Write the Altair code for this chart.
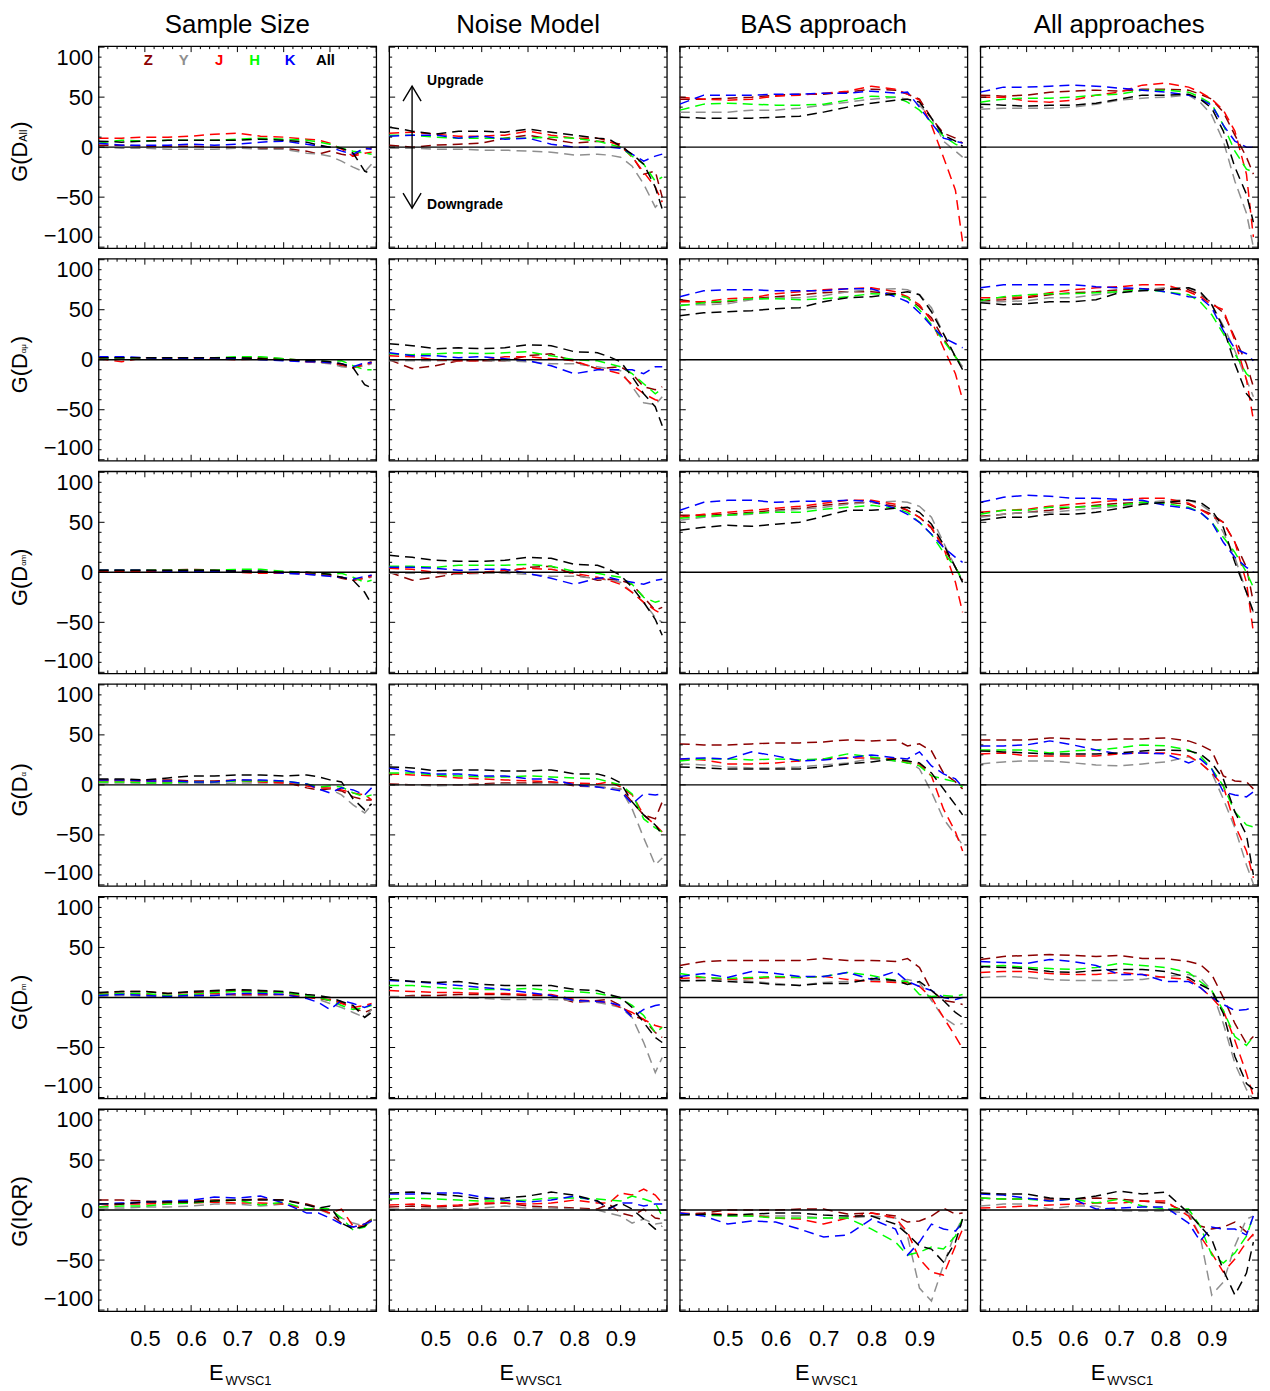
import altair as alt
import pandas as pd

FONT = "Liberation Sans"

# ---------------- data ----------------
X = [0.40, 0.45, 0.50, 0.55, 0.60, 0.65, 0.70, 0.75, 0.80, 0.85, 0.875, 0.90, 0.925, 0.95, 0.975, 0.99]
SERIES = ["Z", "Y", "J", "H", "K", "All"]
COLORS = ["#8b0000", "#8f8f8f", "#ff0000", "#00ff00", "#0000ff", "#000000"]
COLUMN_TITLES = ["Sample Size", "Noise Model", "BAS approach", "All approaches"]
X_LABELS = [0.5, 0.6, 0.7, 0.8, 0.9]
Y_LABELS = [-100, -50, 0, 50, 100]
X_MAJOR = [0.4, 0.5, 0.6, 0.7, 0.8, 0.9, 1.0]
X_MINOR = [0.42, 0.44, 0.46, 0.48, 0.52, 0.54, 0.56, 0.58, 0.62, 0.64, 0.66, 0.68,
           0.72, 0.74, 0.76, 0.78, 0.82, 0.84, 0.86, 0.88, 0.92, 0.94, 0.96, 0.98]
Y_MAJOR = [-100, -50, 0, 50, 100]
Y_MINOR = [-90, -80, -70, -60, -40, -30, -20, -10, 10, 20, 30, 40, 60, 70, 80, 90]

# row 1: G(D_All)
DALL_SAMPLE = {
    "Z":   [2, 2, 1, 1, 1, 0, 0, -1, -1, -4, -7, -4, -7, -9, -2, -1],
    "Y":   [0, -1, -1, -2, -2, -2, -1, -2, -2, -6, -7, -9, -14, -20, -25, -17],
    "J":   [9, 9, 10, 10, 11, 13, 14, 11, 10, 8, 7, 4, -2, -9, -6, -5],
    "H":   [4, 7, 6, 7, 7, 7, 8, 9, 8, 7, 5, 3, -1, -4, -6, -7],
    "K":   [4, 2, 2, 2, 3, 2, 3, 5, 6, 3, 1, 0, -4, -7, -1, -2],
    "All": [6, 5, 6, 7, 7, 7, 7, 8, 7, 5, 2, 0, -1, -6, -24, -27],
}
DALL_NOISE = {
    "Z":   [2, 0, 2, 3, 4, 9, 12, 8, 4, 6, 5, 3, -9, -27, -24, -50],
    "Y":   [-1, -1, -2, -2, -3, -3, -4, -5, -8, -7, -8, -10, -19, -37, -60, -53],
    "J":   [14, 15, 13, 11, 11, 12, 16, 12, 9, 9, 6, 1, -10, -25, -40, -55],
    "H":   [12, 12, 10, 9, 9, 9, 9, 10, 9, 6, 3, 0, -9, -17, -34, -30],
    "K":   [11, 12, 12, 9, 11, 8, 9, 3, 0, 0, 0, -1, -7, -14, -9, -7],
    "All": [20, 16, 13, 16, 16, 15, 18, 15, 12, 9, 8, 1, -7, -17, -40, -62],
}
DALL_BAS = {
    "Z":   [48, 48, 49, 50, 52, 53, 53, 55, 58, 57, 53, 48, 29, 14, 9, 4],
    "Y":   [35, 35, 35, 37, 37, 39, 42, 45, 48, 50, 48, 42, 29, 6, -4, -10],
    "J":   [50, 48, 47, 48, 51, 52, 54, 56, 61, 58, 53, 47, 22, -10, -43, -95],
    "H":   [37, 43, 44, 43, 42, 42, 43, 47, 51, 50, 45, 37, 25, 11, 3, 0],
    "K":   [43, 52, 52, 52, 53, 53, 54, 54, 56, 54, 55, 40, 24, 9, 6, 4],
    "All": [30, 29, 29, 29, 30, 31, 35, 40, 44, 47, 48, 45, 29, 12, 6, 1],
}
DALL_ALLAPP = {
    "Z":   [52, 51, 52, 55, 56, 57, 56, 58, 58, 57, 53, 48, 35, 12, -10, -27],
    "Y":   [38, 39, 39, 39, 40, 43, 47, 49, 50, 52, 45, 32, 6, -34, -66, -100],
    "J":   [50, 50, 46, 45, 47, 52, 55, 62, 64, 60, 55, 48, 37, 16, -27, -90],
    "H":   [45, 48, 49, 49, 50, 52, 53, 57, 57, 55, 50, 43, 22, -4, -22, -25],
    "K":   [55, 60, 60, 61, 62, 61, 59, 57, 55, 52, 48, 42, 22, 6, 0, 0],
    "All": [43, 42, 41, 42, 42, 44, 48, 52, 52, 53, 48, 39, 16, -20, -47, -75],
}
# row 2
DAMU_SAMPLE = {
    "Z":   [2, 2, 2, 2, 2, 2, 2, 2, 1, -1, -2, -3, -6, -8, -4, -2],
    "Y":   [1, 1, 1, 1, 1, 1, 1, 1, 0, -2, -3, -4, -7, -8, -6, -4],
    "J":   [1, -2, 2, 2, 2, 1, 0, 1, 0, -2, -2, -3, -5, -8, -5, -3],
    "H":   [2, 2, 2, 2, 2, 2, 3, 3, 1, -1, -1, -2, -1, -6, -10, -10],
    "K":   [3, 3, 2, 1, 1, 2, 1, 0, -1, -2, -2, -3, -4, -7, -3, -3],
    "All": [2, 2, 2, 2, 2, 2, 2, 1, 0, -1, -1, -2, -4, -8, -25, -28],
}
DAMU_NOISE = {
    "Z":   [0, -9, -6, -1, -1, -1, 4, 6, -2, -9, -8, -7, -14, -27, -30, -27],
    "Y":   [-1, -1, -1, -1, -1, -1, -2, -4, -4, -7, -9, -11, -27, -43, -45, -37],
    "J":   [4, 3, 0, -1, -1, 3, 3, 1, -1, -9, -11, -14, -25, -34, -40, -42],
    "H":   [6, 5, 6, 7, 6, 7, 8, 4, 0, -1, -4, -7, -14, -24, -34, -29],
    "K":   [7, 4, 4, 2, 3, 1, -1, -6, -14, -10, -10, -10, -10, -14, -7, -7],
    "All": [16, 14, 11, 12, 11, 12, 15, 14, 8, 7, 3, -2, -17, -34, -47, -66],
}
DAMU_BAS = {
    "Z":   [60, 57, 58, 61, 63, 65, 67, 68, 68, 66, 62, 53, 42, 21, 3, -7],
    "Y":   [55, 55, 56, 60, 62, 62, 64, 68, 70, 71, 70, 65, 52, 26, 3, -7],
    "J":   [58, 58, 61, 62, 66, 68, 70, 71, 72, 68, 63, 55, 39, 12, -14, -40],
    "H":   [54, 57, 59, 61, 61, 60, 61, 63, 66, 65, 62, 50, 35, 19, 3, -7],
    "K":   [63, 69, 70, 70, 69, 69, 69, 71, 71, 63, 58, 47, 34, 22, 16, 12],
    "All": [44, 47, 48, 49, 51, 52, 58, 62, 63, 66, 68, 65, 48, 26, 3, -10],
}
DAMU_ALLAPP = {
    "Z":   [59, 60, 62, 65, 67, 68, 70, 71, 71, 70, 65, 57, 47, 22, -4, -27],
    "Y":   [58, 58, 59, 62, 62, 65, 68, 70, 72, 72, 67, 55, 34, 9, -20, -37],
    "J":   [62, 62, 63, 67, 70, 72, 73, 75, 75, 68, 63, 55, 50, 19, -20, -60],
    "H":   [59, 63, 65, 66, 66, 67, 68, 70, 68, 65, 58, 45, 26, 6, -14, -20],
    "K":   [72, 75, 75, 75, 75, 73, 72, 71, 68, 63, 62, 52, 29, 11, 6, -1],
    "All": [57, 55, 56, 58, 58, 60, 67, 69, 70, 72, 68, 55, 32, -4, -34, -42],
}
# row 3
DAM_SAMPLE = {
    "Z":   [2, 2, 2, 2, 3, 2, 2, 1, 0, -1, -2, -3, -6, -8, -5, -3],
    "Y":   [1, 1, 1, 1, 1, 1, 0, 0, -1, -2, -3, -4, -5, -7, -6, -5],
    "J":   [1, 1, 1, 1, 1, 0, 0, -1, -1, -1, -2, -3, -5, -8, -6, -4],
    "H":   [2, 2, 2, 2, 2, 2, 3, 3, 1, 0, -1, -2, -1, -5, -10, -8],
    "K":   [2, 2, 2, 1, 1, 1, 1, 1, -1, -2, -3, -4, -5, -7, -4, -3],
    "All": [2, 2, 2, 2, 2, 2, 1, 1, 0, 0, -1, -2, -5, -8, -20, -32],
}
DAM_NOISE = {
    "Z":   [0, -8, -5, -1, -1, 0, 5, 6, -2, -8, -7, -8, -12, -25, -38, -35],
    "Y":   [-1, -1, -1, -2, -1, -1, -2, -4, -4, -6, -8, -10, -20, -30, -45, -50],
    "J":   [4, 3, 0, -1, 0, 2, 4, 3, -1, -5, -8, -12, -20, -30, -38, -42],
    "H":   [6, 6, 5, 7, 7, 7, 8, 6, 1, -1, -3, -5, -12, -25, -30, -28],
    "K":   [5, 5, 4, 2, 3, 3, -1, -6, -12, -6, -5, -8, -10, -12, -8, -7],
    "All": [17, 15, 12, 11, 11, 12, 15, 14, 8, 7, 3, -3, -15, -30, -47, -63],
}
DAM_BAS = {
    "Z":   [57, 57, 58, 60, 62, 64, 67, 69, 70, 66, 62, 55, 44, 25, 5, -8],
    "Y":   [52, 55, 57, 58, 61, 63, 65, 68, 70, 71, 70, 66, 55, 30, 5, -10],
    "J":   [55, 58, 60, 62, 64, 66, 69, 72, 72, 68, 62, 55, 45, 25, -10, -40],
    "H":   [54, 56, 57, 59, 60, 60, 63, 65, 67, 64, 60, 50, 38, 20, 5, -8],
    "K":   [62, 70, 72, 72, 70, 71, 71, 72, 71, 64, 58, 50, 38, 25, 15, 10],
    "All": [42, 45, 47, 46, 48, 50, 56, 62, 62, 64, 65, 60, 48, 28, 5, -10],
}
DAM_ALLAPP = {
    "Z":   [56, 58, 60, 62, 65, 67, 69, 70, 70, 68, 63, 58, 50, 30, 5, -30],
    "Y":   [55, 58, 60, 60, 62, 64, 66, 69, 72, 72, 68, 60, 40, 15, -20, -40],
    "J":   [60, 62, 63, 66, 68, 70, 72, 74, 74, 69, 63, 56, 50, 30, -10, -60],
    "H":   [58, 62, 62, 65, 65, 66, 67, 70, 69, 65, 60, 50, 35, 20, 0, -15],
    "K":   [70, 75, 77, 76, 74, 74, 73, 72, 67, 64, 60, 50, 30, 15, 5, 0],
    "All": [52, 55, 55, 58, 58, 60, 64, 68, 70, 72, 70, 62, 45, 10, -20, -40],
}
# row 4
DA_SAMPLE = {
    "Z":   [5, 5, 5, 5, 4, 4, 5, 4, 3, -3, -5, -4, -6, -12, -15, -15],
    "Y":   [2, 2, 2, 2, 2, 1, 2, 2, 2, 1, -2, -4, -10, -20, -28, -20],
    "J":   [4, 4, 4, 3, 3, 3, 4, 3, 2, -1, -3, -3, -5, -8, -10, -15],
    "H":   [3, 3, 2, 2, 3, 3, 4, 4, 4, 1, -2, -1, -2, -8, -12, -10],
    "K":   [5, 5, 4, 4, 3, 3, 5, 5, 4, 1, -4, -8, -3, -5, -10, -3],
    "All": [6, 6, 5, 7, 9, 9, 10, 10, 9, 10, 8, 5, 3, -14, -25, -19],
}
DA_NOISE = {
    "Z":   [1, 0, 0, 0, 1, 2, 2, 3, -1, -2, -3, -4, -17, -30, -34, -17],
    "Y":   [0, 0, -1, 0, 0, 1, 1, 2, 0, -2, -3, -4, -24, -53, -80, -73],
    "J":   [11, 10, 9, 7, 6, 5, 4, 3, 2, 1, 3, -2, -10, -30, -40, -47],
    "H":   [12, 12, 10, 9, 8, 8, 9, 8, 7, 6, 3, 0, -9, -34, -43, -47],
    "K":   [17, 13, 11, 11, 9, 9, 6, 6, 0, -2, -4, -6, -19, -9, -10, -9],
    "All": [18, 17, 14, 15, 15, 14, 14, 15, 11, 11, 8, 2, -17, -30, -40, -50],
}
DA_BAS = {
    "Z":   [41, 40, 40, 41, 42, 42, 43, 45, 44, 45, 39, 41, 34, 12, 3, -4],
    "Y":   [21, 20, 18, 17, 17, 18, 20, 22, 26, 24, 24, 16, -7, -34, -50, -60],
    "J":   [26, 25, 21, 21, 22, 24, 26, 27, 27, 26, 22, 21, 9, -24, -47, -66],
    "H":   [24, 26, 26, 25, 26, 25, 26, 31, 28, 24, 22, 19, 9, 6, 3, -2],
    "K":   [26, 27, 26, 33, 29, 24, 25, 27, 30, 27, 26, 33, 19, 11, 6, -2],
    "All": [18, 17, 16, 16, 16, 16, 18, 21, 23, 26, 24, 22, 12, -4, -20, -30],
}
DA_ALLAPP = {
    "Z":   [45, 45, 45, 47, 46, 45, 46, 46, 47, 44, 40, 34, 9, 4, 3, -4],
    "Y":   [21, 23, 24, 24, 22, 20, 19, 21, 23, 28, 22, 12, -14, -43, -80, -99],
    "J":   [31, 32, 29, 29, 29, 29, 31, 32, 32, 29, 22, 12, -1, -40, -66, -93],
    "H":   [35, 35, 35, 32, 34, 35, 37, 40, 39, 35, 29, 16, -1, -27, -40, -42],
    "K":   [39, 39, 40, 44, 40, 35, 31, 32, 31, 22, 26, 16, -7, -10, -12, -7],
    "All": [34, 33, 32, 31, 31, 31, 32, 34, 35, 34, 31, 22, 6, -27, -50, -90],
}
# row 5
DM_SAMPLE = {
    "Z":   [4, 6, 6, 4, 5, 6, 7, 6, 5, 1, -1, -3, -5, -10, -15, -12],
    "Y":   [1, 2, 1, 1, 1, 2, 2, 2, 3, 1, -2, -6, -10, -15, -20, -12],
    "J":   [3, 4, 3, 2, 3, 4, 3, 3, 3, 0, -1, -2, -6, -10, -8, -6],
    "H":   [3, 4, 4, 2, 3, 5, 6, 5, 5, 2, 0, -3, -8, -12, -10, -8],
    "K":   [2, 3, 2, 1, 2, 2, 4, 4, 3, -1, -5, -12, -3, -6, -10, -7],
    "All": [5, 6, 6, 4, 6, 7, 8, 7, 6, 3, 2, 0, -4, -8, -20, -15],
}
DM_NOISE = {
    "Z":   [0, 2, 2, 3, 3, 3, 2, 2, -5, -3, -2, -8, -18, -22, -35, -40],
    "Y":   [1, 1, 0, 0, -1, -2, -2, -2, -3, -5, -7, -10, -20, -45, -75, -60],
    "J":   [7, 6, 5, 5, 4, 4, 3, 3, -2, -4, -5, -10, -15, -22, -28, -30],
    "H":   [12, 12, 10, 9, 8, 8, 9, 7, 6, 4, 2, -1, -8, -18, -35, -30],
    "K":   [17, 16, 14, 12, 10, 8, 5, 2, -3, -4, -5, -8, -20, -12, -8, -7],
    "All": [18, 16, 15, 16, 13, 12, 12, 12, 8, 7, 3, 0, -10, -25, -40, -45],
}
DM_BAS = {
    "Z":   [32, 36, 37, 37, 37, 37, 39, 37, 37, 36, 39, 30, 7, -3, -5, -7],
    "Y":   [16, 17, 18, 16, 14, 12, 15, 16, 17, 16, 18, 15, -3, -20, -28, -26],
    "J":   [19, 20, 18, 19, 20, 20, 21, 18, 16, 15, 15, 11, 0, -20, -39, -51],
    "H":   [24, 20, 19, 20, 21, 20, 21, 25, 22, 17, 16, 3, 1, 2, 1, 3],
    "K":   [21, 24, 20, 26, 24, 21, 21, 25, 18, 26, 16, 11, 7, 0, -2, 0],
    "All": [17, 17, 16, 15, 13, 12, 14, 14, 19, 17, 13, 16, 7, -3, -15, -20],
}
DM_ALLAPP = {
    "Z":   [38, 41, 42, 43, 42, 41, 42, 39, 39, 36, 33, 23, 0, -26, -46, -39],
    "Y":   [20, 21, 20, 18, 17, 17, 17, 18, 21, 23, 20, 7, -26, -66, -92, -102],
    "J":   [25, 26, 26, 24, 23, 23, 25, 23, 20, 18, 10, 0, -13, -43, -76, -99],
    "H":   [31, 32, 30, 29, 28, 30, 34, 32, 30, 25, 16, 7, -13, -39, -48, -39],
    "K":   [36, 35, 34, 38, 36, 32, 23, 23, 16, 16, 10, 0, -7, -13, -12, -10],
    "All": [31, 30, 29, 26, 25, 27, 28, 28, 26, 20, 13, 7, -16, -59, -86, -92],
}
# row 6: G(IQR)
IQR_SAMPLE = {
    "Z":   [10, 10, 9, 8, 9, 10, 10, 11, 10, 6, 3, -4, -13, -17, -14, -9],
    "Y":   [2, 2, 3, 3, 4, 6, 6, 4, 6, 1, 1, -4, -8, -13, -16, -11],
    "J":   [3, 6, 6, 7, 7, 8, 7, 7, 6, 1, 1, -3, 1, -16, -16, -9],
    "H":   [3, 4, 4, 6, 7, 9, 10, 5, 8, 1, 2, 1, -8, -20, -17, -9],
    "K":   [6, 7, 8, 9, 10, 13, 12, 14, 7, -3, -3, -8, -14, -17, -14, -11],
    "All": [6, 6, 8, 8, 8, 9, 10, 10, 10, 5, 2, 4, -13, -19, -16, -10],
}
IQR_NOISE = {
    "Z":   [3, 4, 3, 4, 6, 7, 4, 3, 2, 1, 6, -3, -6, 1, -8, -9],
    "Y":   [1, 1, 2, 1, 2, 4, 2, 2, 1, 0, -3, -6, -13, -9, -14, -13],
    "J":   [5, 6, 4, 5, 7, 7, 6, 7, 10, 7, 7, 17, 15, 21, 15, 7],
    "H":   [11, 12, 11, 10, 9, 9, 10, 12, 12, 11, 10, 9, 14, 11, 7, -6],
    "K":   [16, 16, 17, 17, 13, 10, 8, 10, 14, 9, 1, 7, 7, 4, 6, 6],
    "All": [17, 18, 16, 14, 11, 12, 14, 18, 15, 9, 2, 7, 1, -9, -19, -16],
}
IQR_BAS = {
    "Z":   [-4, -3, 0, 0, 0, 1, 1, -4, -3, -6, -12, -11, -6, 2, -4, -3],
    "Y":   [-4, -4, -6, -6, -6, -6, -8, -8, -6, -8, -26, -78, -91, -55, -22, -8],
    "J":   [-3, -4, -4, -5, -8, -9, -14, -8, -3, -8, -22, -49, -62, -65, -36, -19],
    "H":   [-4, -5, -6, -6, -8, -8, -8, -8, -19, -32, -45, -42, -37, -39, -26, -8],
    "K":   [-3, -6, -14, -11, -12, -19, -27, -25, -9, -19, -45, -32, -14, -19, -21, -13],
    "All": [-5, -4, -5, -4, -3, -3, -5, -6, -6, -14, -24, -36, -39, -52, -32, -9],
}
IQR_ALLAPP = {
    "Z":   [12, 11, 11, 11, 11, 12, 11, 9, 7, -3, -16, -19, -17, -12, -22, -26],
    "Y":   [4, 6, 6, 1, 4, 4, -1, -1, -1, -3, -26, -85, -72, -36, -9, -6],
    "J":   [2, 3, 4, 5, 6, 7, 7, 9, 9, -6, -26, -43, -62, -49, -32, -24],
    "H":   [12, 11, 11, 9, 11, 7, 11, 4, 1, 1, -16, -45, -53, -43, -26, -6],
    "K":   [16, 15, 12, 9, 11, 1, 2, 3, 3, -13, -31, -17, -19, -19, -25, -6],
    "All": [17, 16, 16, 12, 11, 14, 19, 16, 18, -3, -16, -29, -60, -85, -63, -32],
}

GRID = [
    [DALL_SAMPLE, DALL_NOISE, DALL_BAS, DALL_ALLAPP],
    [DAMU_SAMPLE, DAMU_NOISE, DAMU_BAS, DAMU_ALLAPP],
    [DAM_SAMPLE, DAM_NOISE, DAM_BAS, DAM_ALLAPP],
    [DA_SAMPLE, DA_NOISE, DA_BAS, DA_ALLAPP],
    [DM_SAMPLE, DM_NOISE, DM_BAS, DM_ALLAPP],
    [IQR_SAMPLE, IQR_NOISE, IQR_BAS, IQR_ALLAPP],
]

# y titles: (main, subscript, closing)
Y_TITLES = [
    ("G(D", "All", ")"),
    ("G(D", "\u03b1\u03bc", ")"),
    ("G(D", "\u03b1m", ")"),
    ("G(D", "\u03b1", ")"),
    ("G(D", "m", ")"),
    ("G(IQR)", "", ""),
]

# annotation (panel row 1, "Noise Model")
ARROW_PART = ["shaft", "shaft", "up", "up", "up", "down", "down", "down"]
ARROW_X = [0.4495, 0.4495, 0.430, 0.4495, 0.469, 0.430, 0.4495, 0.469]
ARROW_Y = [-61, 61, 46, 61, 46, -46, -61, -46]
ARROW_ORDER = [0, 1, 0, 1, 2, 0, 1, 2]
ANNOT_LABEL = ["Upgrade", "Downgrade"]
ANNOT_X = [0.482, 0.482]
ANNOT_Y = [66, -58]

# ---------------- tables ----------------
recs = []
for r, row in enumerate(GRID):
    for c, panel in enumerate(row):
        for s in SERIES:
            for x, y in zip(X, panel[s]):
                recs.append({"panel": f"{r}-{c}", "series": s, "x": x, "y": y})
DF = pd.DataFrame(recs)
ONE = pd.DataFrame({"v": [0]})
XMAJ = pd.DataFrame({"v": X_MAJOR})
XMIN = pd.DataFrame({"v": X_MINOR})
YMAJ = pd.DataFrame({"v": Y_MAJOR})
YMIN = pd.DataFrame({"v": Y_MINOR})
LEG = pd.DataFrame({"series": SERIES})
ARROW = pd.DataFrame({"part": ARROW_PART, "x": ARROW_X, "y": ARROW_Y, "o": ARROW_ORDER})
ANNOT = pd.DataFrame({"label": ANNOT_LABEL, "x": ANNOT_X, "y": ANNOT_Y})

WIDTHS = [279, 279, 289, 279]
H = 203
MAJ, MINL = 6, 3
CSCALE = alt.Scale(domain=SERIES, range=COLORS)
TX = -79  # y-title centre, px left of the panel


def make_panel(r, c):
    W = WIDTHS[c]
    pid = f"{r}-{c}"
    xs = alt.Scale(domain=[0.4, 1.0], nice=False, zero=False)
    ys = alt.Scale(domain=[-101, 101], nice=False, zero=False)
    if r == 5:
        xaxis = alt.Axis(values=X_LABELS, format=".1f", ticks=False, tickSize=0, domain=False,
                         grid=False, labelFontSize=22, labelPadding=18, labelFont=FONT,
                         labelColor="black", labelOverlap=False, title=None)
    else:
        xaxis = None
    if c == 0:
        yaxis = alt.Axis(values=Y_LABELS, ticks=False, tickSize=0, domain=False, grid=False,
                         labelFontSize=22, labelPadding=6, labelFont=FONT, labelColor="black",
                         labelFlush=5, labelOverlap=False, title=None)
    else:
        yaxis = None

    layers = []
    # series first (its axes are shared by every layer)
    layers.append(alt.Chart(DF).transform_filter(alt.datum.panel == pid).mark_line(
        strokeDash=[10, 6], strokeWidth=1.5, clip=True).encode(
        x=alt.X("x:Q", scale=xs, axis=xaxis),
        y=alt.Y("y:Q", scale=ys, axis=yaxis),
        color=alt.Color("series:N", scale=CSCALE, legend=None),
    ))
    # ticks (inward)
    for data, ln in [(XMAJ, MAJ), (XMIN, MINL)]:
        layers.append(alt.Chart(data).mark_rule(color="black", strokeWidth=1).encode(
            x=alt.X("v:Q", scale=xs, axis=xaxis), y=alt.value(H), y2=alt.value(H - ln)))
        layers.append(alt.Chart(data).mark_rule(color="black", strokeWidth=1).encode(
            x=alt.X("v:Q", scale=xs, axis=xaxis), y=alt.value(0), y2=alt.value(ln)))
    for data, ln in [(YMAJ, MAJ), (YMIN, MINL)]:
        layers.append(alt.Chart(data).mark_rule(color="black", strokeWidth=1).encode(
            y=alt.Y("v:Q", scale=ys, axis=yaxis), x=alt.value(0), x2=alt.value(ln)))
        layers.append(alt.Chart(data).mark_rule(color="black", strokeWidth=1).encode(
            y=alt.Y("v:Q", scale=ys, axis=yaxis), x=alt.value(W), x2=alt.value(W - ln)))
    # zero line
    layers.append(alt.Chart(ONE).mark_rule(color="black", strokeWidth=1.4).encode(
        y=alt.Y("v:Q", scale=ys, axis=yaxis)))

    # column titles
    if r == 0:
        layers.append(alt.Chart(ONE).mark_text(text=COLUMN_TITLES[c], align="center",
                                               baseline="alphabetic", fontSize=26, font=FONT,
                                               color="black").encode(
            x=alt.value(W / 2), y=alt.value(-13)))

    # y titles
    if c == 0:
        main, sub, close = Y_TITLES[r]
        if not sub:
            layers.append(alt.Chart(ONE).mark_text(text=main, angle=270, align="center",
                                                   baseline="middle", fontSize=22, font=FONT,
                                                   color="black").encode(
                x=alt.value(TX), y=alt.value(103)))
        else:
            if r == 0:
                sub_size, junction, close_at = 11, 96, 83
            else:
                sub_size = 8
                junction = {1: 95, 2: 95, 3: 93, 4: 94}[r]
                close_at = junction - {1: 10, 2: 10, 3: 6, 4: 8}[r]
            layers.append(alt.Chart(ONE).mark_text(text=main, angle=270, align="right",
                                                   baseline="middle", fontSize=22, font=FONT,
                                                   color="black").encode(
                x=alt.value(TX), y=alt.value(junction)))
            layers.append(alt.Chart(ONE).mark_text(text=sub, angle=270, align="left",
                                                   baseline="middle", fontSize=sub_size, font=FONT,
                                                   color="black").encode(
                x=alt.value(TX + 4), y=alt.value(junction)))
            layers.append(alt.Chart(ONE).mark_text(text=close, angle=270, align="left",
                                                   baseline="middle", fontSize=22, font=FONT,
                                                   color="black").encode(
                x=alt.value(TX), y=alt.value(close_at)))
    # x title
    if r == 5:
        layers.append(alt.Chart(ONE).mark_text(text="E", align="right", baseline="alphabetic",
                                               fontSize=22, font=FONT, color="black").encode(
            x=alt.value(W / 2 - 14), y=alt.value(H + 69)))
        layers.append(alt.Chart(ONE).mark_text(text="WVSC1", align="left", baseline="alphabetic",
                                               fontSize=13, font=FONT, color="black").encode(
            x=alt.value(W / 2 - 12), y=alt.value(H + 74)))

    resolve_x = False
    if r == 0 and c == 0:
        layers.append(alt.Chart(LEG).mark_text(fontSize=15, fontWeight="bold", font=FONT,
                                               baseline="middle").encode(
            x=alt.X("series:N", scale=alt.Scale(type="point", domain=SERIES, range=[50, 228],
                                                padding=0), axis=None),
            y=alt.value(14),
            text="series:N",
            color=alt.Color("series:N", scale=CSCALE, legend=None),
        ))
        resolve_x = True
    if r == 0 and c == 1:
        layers.append(alt.Chart(ARROW).mark_line(color="black", strokeWidth=1.4).encode(
            x=alt.X("x:Q", scale=xs, axis=xaxis),
            y=alt.Y("y:Q", scale=ys, axis=yaxis),
            detail="part:N",
            order="o:Q",
        ))
        layers.append(alt.Chart(ANNOT).mark_text(align="left", baseline="middle", fontSize=14,
                                                 fontWeight="bold", font=FONT,
                                                 color="black").encode(
            x=alt.X("x:Q", scale=xs, axis=xaxis),
            y=alt.Y("y:Q", scale=ys, axis=yaxis),
            text="label:N",
        ))

    ch = alt.layer(*layers).properties(width=W, height=H)
    if resolve_x:
        ch = ch.resolve_scale(x="independent")
    return ch


rows = [alt.hconcat(*[make_panel(r, c) for c in range(4)], spacing=9) for r in range(6)]
chart = alt.vconcat(*rows, spacing=6.6).properties(
    padding={"left": 0, "top": 0, "right": 2, "bottom": 0}
).configure_view(stroke="black", strokeWidth=1.3).configure_axis(
    labelColor="black", labelFont=FONT
)

chart.save("out.html", embed_options={"renderer": "svg", "actions": False})
